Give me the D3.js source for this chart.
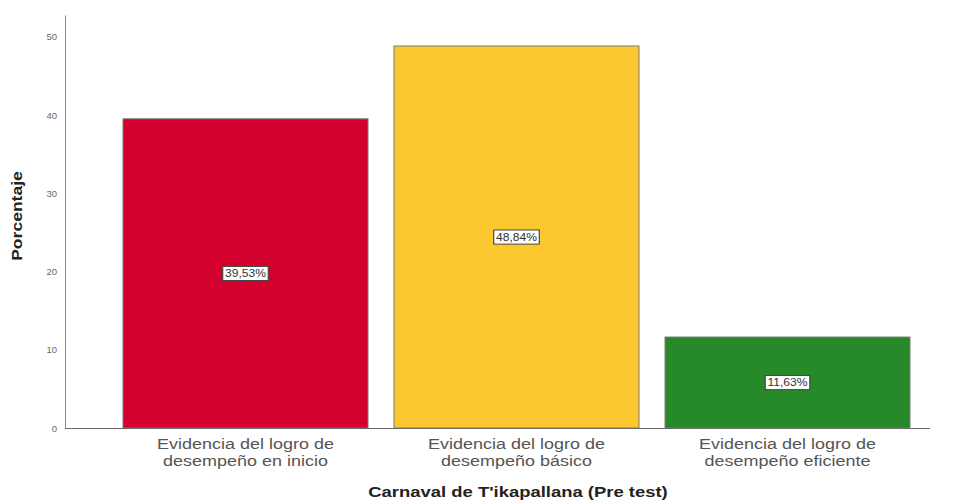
<!DOCTYPE html>
<html><head><meta charset="utf-8">
<script src="https://cdn.jsdelivr.net/npm/d3@7"></script>
<style>body{margin:0;background:#fff;} svg{display:block;font-family:"Liberation Sans",Arial,sans-serif;}</style>
</head><body>
<svg id="chart" width="955" height="502"></svg>
<script>
const categories = [
  ["Evidencia del logro de", "desempeño en inicio"],
  ["Evidencia del logro de", "desempeño básico"],
  ["Evidencia del logro de", "desempeño eficiente"]
];
const values = [39.53, 48.84, 11.63];
const valueLabels = ["39,53%", "48,84%", "11,63%"];
const colors = ["#D3002E", "#FCC830", "#268A28"];
const yTicks = [0, 10, 20, 30, 40, 50];
const xTitle = "Carnaval de T'ikapallana (Pre test)";
const yTitle = "Porcentaje";

const svg = d3.select("#chart");
const x0 = 65, xEnd = 930, yBottom = 428, yTop = 15;

const x = d3.scaleBand().domain(d3.range(values.length)).range([110, 923])
  .paddingInner(0.096).paddingOuter(0.048);
const y = d3.scaleLinear().domain([0, 52.8]).range([yBottom, yTop]);

// y axis
const yAxis = d3.axisLeft(y).tickValues(yTicks).tickSize(0).tickPadding(8);
const gy = svg.append("g").attr("transform", `translate(${x0},0)`).call(yAxis);
gy.select(".domain").attr("stroke", "#8a8a8a").attr("stroke-width", 1);
gy.selectAll("text").attr("font-size", 9.5).attr("fill", "#666").attr("font-family", "Liberation Sans, Arial, sans-serif");

// bars
svg.append("g").selectAll("rect").data(values).join("rect")
  .attr("x", (d, i) => x(i)).attr("width", x.bandwidth())
  .attr("y", d => y(d)).attr("height", d => y(0) - y(d))
  .attr("fill", (d, i) => colors[i])
  .attr("stroke", "#7a7a7a").attr("stroke-width", 1);

// x axis line
svg.append("line").attr("x1", x0).attr("x2", xEnd).attr("y1", yBottom + 0.5).attr("y2", yBottom + 0.5)
  .attr("stroke", "#6a6a6a").attr("stroke-width", 1);

// value labels
const lab = svg.append("g").selectAll("g").data(values).join("g")
  .attr("transform", (d, i) => `translate(${x(i) + x.bandwidth() / 2},${(y(d) + y(0)) / 2}) scale(1.15,1)`);
lab.append("text").text((d, i) => valueLabels[i])
  .attr("text-anchor", "middle").attr("dy", "0.36em")
  .attr("font-size", 10.5).attr("fill", "#333")
  .each(function () {
    const b = this.getBBox();
    d3.select(this.parentNode).insert("rect", "text")
      .attr("x", b.x - 2).attr("y", b.y - 1.5).attr("width", b.width + 4).attr("height", b.height + 3)
      .attr("fill", "#fff").attr("stroke", "#444").attr("stroke-width", 1);
  });

// category labels (two lines each)
const clg = svg.append("g").selectAll("g").data(categories).join("g")
  .attr("transform", (d, i) => `translate(${x(i) + x.bandwidth() / 2},0) scale(1.24,1)`);
clg.selectAll("text").data(d => d).join("text")
  .attr("x", 0).attr("y", (d, j) => 449 + j * 17)
  .attr("text-anchor", "middle")
  .attr("font-size", 14.5).attr("fill", "#555").text(d => d);

// axis titles
svg.append("text").attr("transform", "translate(518,497) scale(1.23,1)").attr("text-anchor", "middle")
  .attr("font-size", 15).attr("font-weight", "bold").attr("fill", "#222").text(xTitle);
svg.append("text").attr("transform", "translate(22,216) rotate(-90) scale(1.17,1)").attr("text-anchor", "middle")
  .attr("font-size", 15).attr("font-weight", "bold").attr("fill", "#222").text(yTitle);
</script>
</body></html>
